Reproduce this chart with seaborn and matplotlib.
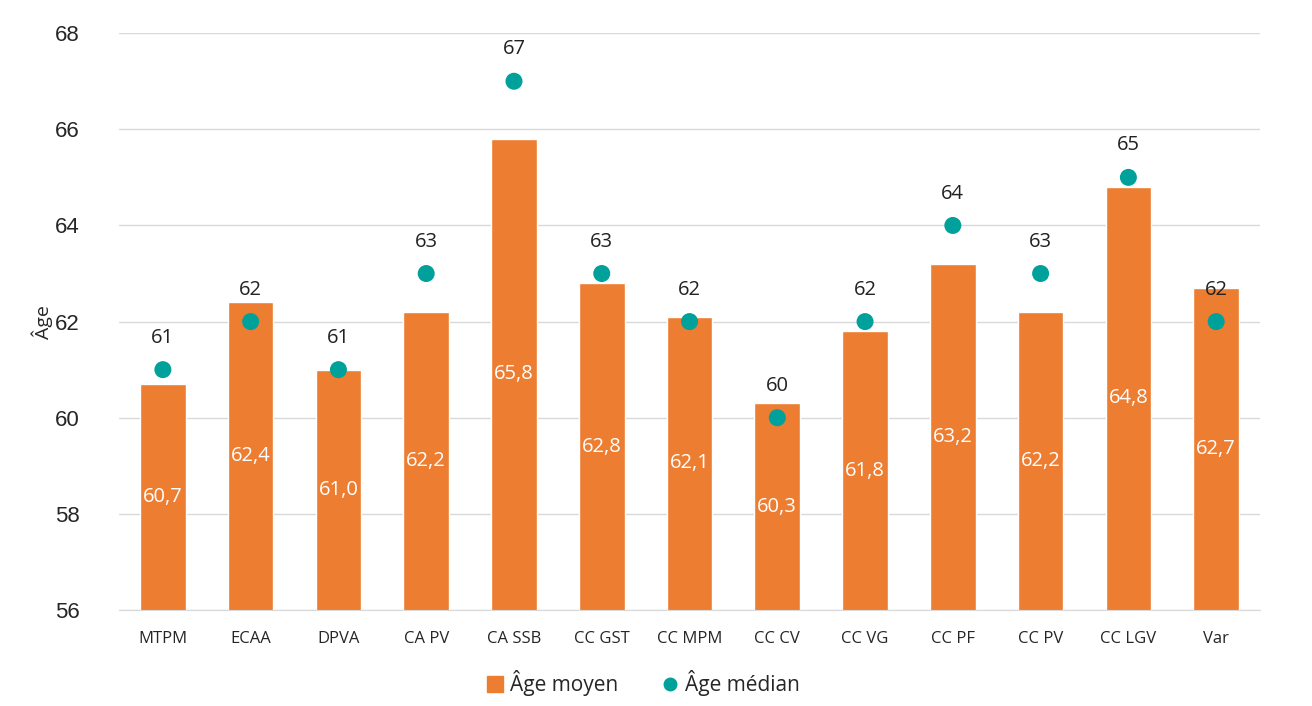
import pandas as pd
import seaborn as sns
import matplotlib.pyplot as plt

territoires = ["MTPM", "ECAA", "DPVA", "CA PV", "CA SSB", "CC GST", "CC MPM",
               "CC CV", "CC VG", "CC PF", "CC PV", "CC LGV", "Var"]
age_moyen = [60.7, 62.4, 61.0, 62.2, 65.8, 62.8, 62.1, 60.3, 61.8, 63.2, 62.2, 64.8, 62.7]
age_median = [61, 62, 61, 63, 67, 63, 62, 60, 62, 64, 63, 65, 62]
y_ticks = [56, 58, 60, 62, 64, 66, 68]

orange = "#ED7D31"
teal = "#00A19A"

df = pd.DataFrame({"territoire": territoires, "moyen": age_moyen, "median": age_median})

sns.set_style("white")
plt.rcParams["font.family"] = ["Open Sans", "DejaVu Sans"]

fig = plt.figure(figsize=(13.12, 7.06), dpi=100)
ax = fig.add_axes([0.0907, 0.136, 0.8697, 0.817])

sns.barplot(data=df, x="territoire", y="moyen", color=orange, width=0.52,
            saturation=1, ax=ax, zorder=2)
sns.scatterplot(data=df, x="territoire", y="median", color=teal, s=150,
                edgecolor="none", ax=ax, zorder=3, legend=False)

ax.set_ylim(56, 68)
ax.set_xlim(-0.5, len(territoires) - 0.5)
ax.set_yticks(y_ticks)
ax.set_yticklabels([str(t) for t in y_ticks], family="Liberation Sans", fontsize=16)
ax.tick_params(axis="x", labelsize=12, length=0, pad=15)
ax.tick_params(axis="y", length=0, pad=28)
ax.yaxis.grid(True, color="#d9d9d9", linewidth=1, zorder=0)
ax.set_axisbelow(True)
for s in ["top", "right", "left"]:
    ax.spines[s].set_visible(False)
ax.spines["bottom"].set_color("#d9d9d9")
ax.set_xlabel("")
ax.set_ylabel("Âge", fontsize=14, labelpad=2)

for i, (m, md) in enumerate(zip(age_moyen, age_median)):
    ax.text(i, (56 + m) / 2, f"{m:.1f}".replace(".", ","), color="white",
            ha="center", va="center", fontsize=14.5, zorder=4)
    ax.annotate(str(md), (i, md), xytext=(0, 23), textcoords="offset points",
                ha="center", va="center", fontsize=14.5, color="#222222")

h_moyen = plt.Line2D([], [], marker="s", linestyle="none", color=orange, markersize=11)
h_median = plt.Line2D([], [], marker="o", linestyle="none", color=teal, markersize=9)
ax.legend([h_moyen, h_median], ["Âge moyen", "Âge médian"], loc="upper center",
          bbox_to_anchor=(0.459, -0.072), ncol=2, frameon=False, fontsize=15,
          handlelength=0.9, columnspacing=2.0, handletextpad=0.3)

fig.savefig("out.png", dpi=100)
